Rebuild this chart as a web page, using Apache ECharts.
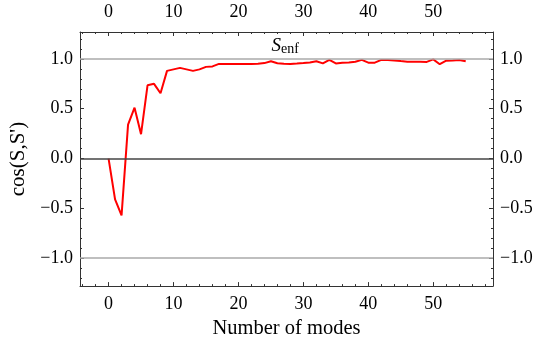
<!DOCTYPE html>
<html>
<head>
<meta charset="utf-8">
<script src="https://cdn.jsdelivr.net/npm/echarts@6/dist/echarts.min.js"></script>
<style>
  html, body { margin: 0; padding: 0; background: #fff; }
  #chart { width: 543px; height: 344px; }
</style>
</head>
<body>
<div id="chart"></div>
<script>
// data
var modes = [0, 1, 2, 3, 4, 5, 6, 7, 8, 9, 10, 11, 12, 13, 14, 15, 16, 17, 18, 19,
  20, 21, 22, 23, 24, 25, 26, 27, 28, 29, 30, 31, 32, 33, 34, 35, 36, 37, 38, 39,
  40, 41, 42, 43, 44, 45, 46, 47, 48, 49, 50, 51, 52, 53, 54, 55];
var cosValues = [0, -0.41, -0.57, 0.34, 0.51, 0.245, 0.735, 0.75, 0.655, 0.88,
  0.895, 0.91, 0.895, 0.88, 0.895, 0.92, 0.925, 0.95, 0.95, 0.95,
  0.948, 0.948, 0.95, 0.952, 0.958, 0.977, 0.957, 0.952, 0.95, 0.953,
  0.958, 0.965, 0.977, 0.955, 0.99, 0.955, 0.962, 0.965, 0.972, 0.99,
  0.962, 0.962, 0.99, 0.988, 0.985, 0.978, 0.972, 0.972, 0.972, 0.97,
  0.995, 0.947, 0.982, 0.985, 0.99, 0.977];

var xTicks = [0, 10, 20, 30, 40, 50];
var xMinorTicks = [-4, -2, 2, 4, 6, 8, 12, 14, 16, 18, 22, 24, 26, 28, 32, 34, 36, 38,
  42, 44, 46, 48, 52, 54, 56, 58];
var yTicks = [-1, -0.5, 0, 0.5, 1];
var yMinorTicks = [-1.2, -1.1, -0.9, -0.8, -0.7, -0.6, -0.4, -0.3, -0.2, -0.1,
  0.1, 0.2, 0.3, 0.4, 0.6, 0.7, 0.8, 0.9, 1.1, 1.2];
var refLevels = [1, 0, -1];

var font = 'Liberation Serif';
var frameColor = '#333';

var xMin = -4.4, xMax = 59.2;
var yMin = -1.28, yMax = 1.27;

function xAxis(pos, ticks, len, labels) {
  return {
    type: 'value', position: pos, min: xMin, max: xMax,
    axisLine: { show: labels, onZero: false, lineStyle: { color: frameColor, width: 1 } },
    axisTick: { show: true, inside: true, length: len, customValues: ticks,
      lineStyle: { color: frameColor, width: 1 } },
    axisLabel: { show: labels, customValues: ticks, margin: pos == 'top' ? 11 : 9,
      fontFamily: font, fontSize: 18, color: '#000',
      formatter: function (v) { return String(v); } },
    splitLine: { show: false }
  };
}

function yAxis(pos, ticks, len, labels) {
  return {
    type: 'value', position: pos, min: yMin, max: yMax,
    axisLine: { show: labels, onZero: false, lineStyle: { color: frameColor, width: 1 } },
    axisTick: { show: true, inside: true, length: len, customValues: ticks,
      lineStyle: { color: frameColor, width: 1 } },
    axisLabel: { show: labels, customValues: ticks, margin: 7,
      fontFamily: font, fontSize: 18, color: '#000',
      formatter: function (v) {
        return String(Number(v).toFixed(1)).replace('-', '\u2212');
      } },
    splitLine: { show: false }
  };
}

var xAxes = [
  xAxis('bottom', xTicks, 4, true),
  xAxis('top', xTicks, 4, true),
  xAxis('bottom', xMinorTicks, 2, false),
  xAxis('top', xMinorTicks, 2, false)
];
xAxes[0].name = 'Number of modes';
xAxes[0].nameLocation = 'middle';
xAxes[0].nameGap = 29;
xAxes[0].nameTextStyle = { fontFamily: font, fontSize: 20.5, color: '#000' };

var yAxes = [
  yAxis('left', yTicks, 4, true),
  yAxis('right', yTicks, 4, true),
  yAxis('left', yMinorTicks, 2, false),
  yAxis('right', yMinorTicks, 2, false)
];
yAxes[0].name = "cos(S,S')";
yAxes[0].nameLocation = 'middle';
yAxes[0].nameGap = 37;
yAxes[0].nameTextStyle = { fontFamily: font, fontSize: 21, color: '#000' };

var chart = echarts.init(document.getElementById('chart'));

chart.setOption({
  animation: false,
  backgroundColor: '#fff',
  grid: { left: 80, right: 50, top: 32, bottom: 57 },
  xAxis: xAxes,
  yAxis: yAxes,
  series: [{
    type: 'line',
    xAxisIndex: 0,
    yAxisIndex: 0,
    data: modes.map(function (m, i) { return [m, cosValues[i]]; }),
    showSymbol: false,
    lineStyle: { color: '#ff0000', width: 2 },
    markLine: {
      silent: true,
      symbol: 'none',
      label: { show: false },
      data: refLevels.map(function (v) {
        return { yAxis: v, lineStyle: { color: v === 0 ? '#444' : '#aaa', width: 1.5, type: 'solid' } };
      })
    },
    markPoint: {
      symbol: 'circle',
      symbolSize: 1,
      itemStyle: { color: 'rgba(0,0,0,0)' },
      label: {
        show: true,
        position: 'inside',
        formatter: '{s|S}{e|enf}',
        rich: {
          s: { fontFamily: font, fontStyle: 'italic', fontSize: 19, color: '#000', verticalAlign: 'bottom', lineHeight: 20 },
          e: { fontFamily: font, fontSize: 14, color: '#000', verticalAlign: 'bottom', lineHeight: 16 }
        }
      },
      data: [{ coord: [27.2, 1.13] }]
    },
    z: 3
  }]
});
</script>
</body>
</html>
